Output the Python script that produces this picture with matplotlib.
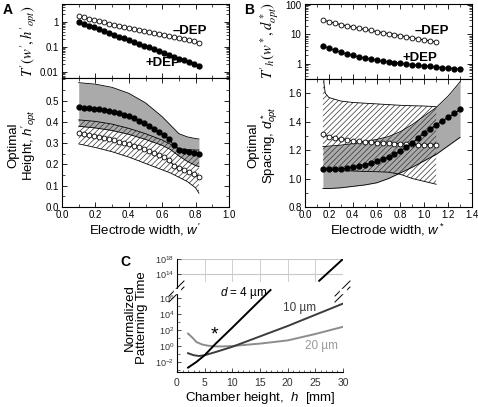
import numpy as np
import matplotlib
matplotlib.use("Agg")
import matplotlib.pyplot as plt
from matplotlib.ticker import MultipleLocator, NullFormatter, FixedLocator

plt.rcParams['font.family'] = ['Liberation Sans', 'DejaVu Sans']
plt.rcParams['mathtext.fontset'] = 'custom'
plt.rcParams['mathtext.rm'] = 'Liberation Sans'
plt.rcParams['mathtext.it'] = 'Liberation Sans:italic'
plt.rcParams['hatch.linewidth'] = 0.5
plt.rcParams['axes.linewidth'] = 0.8

# ---- panel A data (w' from 0.1 to 0.82) ----
w_a = np.round(np.arange(0.10, 0.8201, 0.03), 2)
T_plus_a = [1.0, 0.845, 0.714, 0.603, 0.51, 0.43, 0.364, 0.307, 0.26, 0.22, 0.185, 0.157,
            0.132, 0.112, 0.095, 0.08, 0.067, 0.057, 0.048, 0.041, 0.034, 0.029, 0.025, 0.021, 0.0174]
T_minus_a = [1.78, 1.55, 1.35, 1.2, 1.07, 0.95, 0.85, 0.76, 0.69, 0.63, 0.575, 0.525,
             0.48, 0.44, 0.40, 0.363, 0.33, 0.30, 0.275, 0.25, 0.23, 0.21, 0.19, 0.168, 0.145]
h_plus_a = [0.47, 0.468, 0.466, 0.463, 0.46, 0.456, 0.452, 0.447, 0.441, 0.434, 0.426, 0.417,
            0.406, 0.394, 0.38, 0.366, 0.352, 0.338, 0.32, 0.29, 0.27, 0.262, 0.258, 0.254, 0.25]
h_minus_a = [0.349, 0.345, 0.34, 0.335, 0.33, 0.325, 0.32, 0.314, 0.308, 0.302, 0.296, 0.289,
             0.281, 0.272, 0.263, 0.254, 0.244, 0.234, 0.223, 0.195, 0.185, 0.175, 0.165, 0.155, 0.142]
band_x_a = [0.1, 0.2, 0.3, 0.4, 0.5, 0.6, 0.65, 0.7, 0.75, 0.8, 0.82]
plus_hi_a = [0.585, 0.578, 0.563, 0.535, 0.49, 0.425, 0.385, 0.345, 0.33, 0.322, 0.32]
plus_lo_a = [0.38, 0.372, 0.36, 0.342, 0.318, 0.29, 0.27, 0.24, 0.215, 0.195, 0.19]
minus_hi_a = [0.41, 0.403, 0.39, 0.37, 0.345, 0.315, 0.295, 0.275, 0.27, 0.268, 0.268]
minus_lo_a = [0.297, 0.28, 0.26, 0.235, 0.205, 0.175, 0.16, 0.14, 0.12, 0.09, 0.065]

# ---- panel B data (w* from 0.15) ----
w_b_plus = np.round(np.arange(0.15, 1.3001, 0.05), 2)
w_b_minus = np.round(np.arange(0.15, 1.1001, 0.05), 2)
T_plus_b = [4.1, 3.4, 2.9, 2.5, 2.2, 1.95, 1.75, 1.58, 1.44, 1.33, 1.25, 1.18,
            1.11, 1.05, 1.0, 0.95, 0.9, 0.86, 0.82, 0.78, 0.75, 0.72, 0.7, 0.67]
T_minus_b = [31, 27, 24, 21.5, 19.5, 17.8, 16.2, 14.8, 13.6, 12.5, 11.5, 10.6,
             9.8, 9.0, 8.3, 7.6, 7.0, 6.5, 6.0, 5.6]
d_plus_b = [1.068, 1.066, 1.066, 1.068, 1.072, 1.078, 1.086, 1.096, 1.108, 1.12, 1.134, 1.15,
            1.17, 1.195, 1.22, 1.25, 1.285, 1.32, 1.35, 1.377, 1.405, 1.43, 1.458, 1.486]
d_minus_b = [1.31, 1.295, 1.285, 1.277, 1.27, 1.265, 1.261, 1.258, 1.255, 1.252, 1.25, 1.248,
             1.246, 1.244, 1.242, 1.24, 1.238, 1.237, 1.236, 1.235]
band_x_b = [0.15, 0.2, 0.3, 0.4, 0.5, 0.6, 0.7, 0.8, 0.9, 1.0, 1.1, 1.2, 1.3]
plus_hi_b = [1.225, 1.228, 1.235, 1.245, 1.26, 1.275, 1.295, 1.33, 1.38, 1.44, 1.50, 1.58, 1.68]
plus_lo_b = [0.93, 0.93, 0.935, 0.945, 0.955, 0.97, 1.0, 1.04, 1.08, 1.125, 1.17, 1.23, 1.29]
hatch_x_b = [0.15, 0.16, 0.17, 0.2, 0.3, 0.4, 0.5, 0.6, 0.7, 0.8, 0.9, 1.0, 1.1]
minus_hi_b = [1.8, 1.66, 1.6, 1.57, 1.545, 1.535, 1.53, 1.525, 1.52, 1.515, 1.512, 1.51, 1.505]
minus_lo_b = [1.07, 1.065, 1.06, 1.058, 1.055, 1.053, 1.05, 1.048, 1.045, 1.03, 1.0, 0.98, 0.96]

# ---- panel C data (log10 of normalized time) ----
h4_low = [2, 3.5, 5, 7, 10, 13, 16.9]
t4_low = [-2.7, -2.0, -1.15, 0.3, 2.3, 4.35, 7.0]
h4_high = [25.7, 30]
t4_high = [12.2, 18.0]
h10 = [2, 3, 4, 5, 7, 10, 15, 20, 25, 30]
t10 = [-0.9, -1.15, -1.25, -1.15, -0.75, -0.1, 1.2, 2.5, 3.9, 5.3]
h20 = [2, 3, 3.5, 4.5, 5.5, 7, 8.5, 10, 15, 20, 25, 30]
t20 = [1.55, 0.9, 0.5, 0.2, 0.05, -0.05, -0.05, 0.0, 0.3, 0.7, 1.5, 2.4]

W, H = 478, 407
fig = plt.figure(figsize=(W / 100, H / 100), dpi=100)


def px_axes(x0, y0, x1, y1):
    return fig.add_axes([x0 / W, 1 - y1 / H, (x1 - x0) / W, (y1 - y0) / H])


def style_box(ax):
    ax.tick_params(which='both', direction='in', top=True, right=True, labelsize=7)
    ax.tick_params(which='major', length=3.5, width=0.6, pad=2.5)
    ax.tick_params(which='minor', length=2, width=0.5)


LAB = 9.5
fmt1 = plt.FuncFormatter(lambda v, p: '%.1f' % v)

# ---------- A top ----------
axA1 = px_axes(62, 4, 229, 78)
axA1.plot(w_a, T_minus_a, '-o', color='k', mfc='white', mec='k', ms=3.5, lw=0.8, mew=0.6)
axA1.plot(w_a, T_plus_a, '-o', color='k', mfc='k', mec='k', ms=3.5, lw=0.8)
axA1.set_yscale('log')
axA1.set_ylim(10 ** -2.25, 10 ** 0.72)
axA1.set_xlim(0, 1)
axA1.xaxis.set_major_locator(MultipleLocator(0.2))
axA1.xaxis.set_minor_locator(MultipleLocator(0.1))
axA1.set_xticklabels([])
axA1.set_yticks([0.01, 0.1, 1])
axA1.set_yticklabels(['0.01', '0.1', '1'])
axA1.yaxis.set_minor_formatter(NullFormatter())
style_box(axA1)
axA1.text(0.66, 0.44, '\u2013DEP', fontsize=9.5, fontweight='bold', va='center')
axA1.text(0.5, 0.023, '+DEP', fontsize=9.5, fontweight='bold', va='center')

# ---------- A bottom ----------
axA2 = px_axes(62, 78, 229, 207)
axA2.fill_between(band_x_a, plus_lo_a, plus_hi_a, color='#aaaaaa', lw=0)
axA2.fill_between(band_x_a, minus_lo_a, minus_hi_a, facecolor='none', edgecolor='#333333', hatch='//////', lw=0)
for ys in (plus_hi_a, plus_lo_a, minus_hi_a, minus_lo_a):
    axA2.plot(band_x_a, ys, color='k', lw=0.6)
axA2.plot(w_a, h_plus_a, '-o', color='k', mfc='k', ms=3.5, lw=0.8)
axA2.plot(w_a, h_minus_a, '-o', color='k', mfc='white', mec='k', ms=3.5, lw=0.8, mew=0.6)
axA2.set_xlim(0, 1)
axA2.set_ylim(0, 0.607)
axA2.xaxis.set_major_locator(MultipleLocator(0.2))
axA2.xaxis.set_minor_locator(MultipleLocator(0.1))
axA2.yaxis.set_major_locator(FixedLocator([0.0, 0.1, 0.2, 0.3, 0.4, 0.5]))
axA2.yaxis.set_minor_locator(MultipleLocator(0.05))
axA2.xaxis.set_major_formatter(fmt1)
axA2.yaxis.set_major_formatter(fmt1)
style_box(axA2)

# ---------- B top ----------
axB1 = px_axes(305, 4, 472, 79)
axB1.plot(w_b_minus, T_minus_b, '-o', color='k', mfc='white', mec='k', ms=3.5, lw=0.8, mew=0.6)
axB1.plot(w_b_plus, T_plus_b, '-o', color='k', mfc='k', ms=3.5, lw=0.8)
axB1.set_yscale('log')
axB1.set_ylim(10 ** -0.51, 10 ** 2.03)
axB1.set_xlim(0, 1.4)
axB1.xaxis.set_major_locator(MultipleLocator(0.2))
axB1.xaxis.set_minor_locator(MultipleLocator(0.1))
axB1.set_xticklabels([])
axB1.set_yticks([1, 10, 100])
axB1.set_yticklabels(['1', '10', '100'])
axB1.yaxis.set_minor_formatter(NullFormatter())
style_box(axB1)
axB1.text(0.92, 13.5, '\u2013DEP', fontsize=9.5, fontweight='bold', va='center')
axB1.text(0.82, 1.6, '+DEP', fontsize=9.5, fontweight='bold', va='center')

# ---------- B bottom ----------
axB2 = px_axes(305, 79, 472, 207)
axB2.fill_between(band_x_b, plus_lo_b, plus_hi_b, color='#aaaaaa', lw=0)
axB2.fill_between(hatch_x_b, minus_lo_b, minus_hi_b, facecolor='none', edgecolor='#333333', hatch='//////', lw=0)
for ys in (plus_hi_b, plus_lo_b):
    axB2.plot(band_x_b, ys, color='k', lw=0.6)
for ys in (minus_hi_b, minus_lo_b):
    axB2.plot(hatch_x_b, ys, color='k', lw=0.6)
axB2.plot(w_b_minus, d_minus_b, '-o', color='k', mfc='white', mec='k', ms=3.5, lw=0.8, mew=0.6)
axB2.plot(w_b_plus, d_plus_b, '-o', color='k', mfc='k', ms=3.5, lw=0.8)
axB2.set_xlim(0, 1.4)
axB2.set_ylim(0.8, 1.7)
axB2.xaxis.set_major_locator(MultipleLocator(0.2))
axB2.xaxis.set_minor_locator(MultipleLocator(0.1))
axB2.yaxis.set_major_locator(MultipleLocator(0.2))
axB2.yaxis.set_minor_locator(MultipleLocator(0.1))
axB2.xaxis.set_major_formatter(fmt1)
axB2.yaxis.set_major_formatter(fmt1)
style_box(axB2)

# ---------- C ----------
axCu = px_axes(177, 259, 343, 282)
axCl = px_axes(177, 282, 343, 372)
gray_txt = '#333333'

axCu.plot(h4_high, np.power(10.0, t4_high), color='k', lw=1.4)
axCu.set_yscale('log')
axCu.set_ylim(10 ** 11.87, 10 ** 18)
axCu.set_xlim(0, 30)
for s in ('top', 'right', 'bottom'):
    axCu.spines[s].set_visible(False)
axCu.set_xticks([])
axCu.yaxis.set_major_locator(FixedLocator([1e14, 1e18]))
axCu.yaxis.set_minor_locator(FixedLocator([]))
axCu.set_yticklabels([r'$10^{14}$', r'$10^{18}$'])
axCu.tick_params(axis='y', direction='in', length=3, width=0.6, labelsize=6.5, colors=gray_txt, pad=2)
for gx in (5, 10, 15, 20, 25):
    axCu.axvline(gx, color='#c8c8c8', lw=0.6, zorder=0)
for gy in (1e14, 1e18):
    axCu.axhline(gy, color='#c8c8c8', lw=0.8, zorder=0)

axCl.plot(h20, np.power(10.0, t20), color='#8c8c8c', lw=1.4)
axCl.plot(h10, np.power(10.0, t10), color='#3c3c3c', lw=1.4)
axCl.plot(h4_low, np.power(10.0, t4_low), color='k', lw=1.4)
axCl.set_yscale('log')
axCl.set_ylim(10 ** -3.25, 10 ** 8)
axCl.set_xlim(0, 30)
for s in ('top', 'right'):
    axCl.spines[s].set_visible(False)
axCl.xaxis.set_major_locator(MultipleLocator(5))
axCl.xaxis.set_minor_locator(MultipleLocator(1))
axCl.yaxis.set_major_locator(FixedLocator([1e-2, 1, 1e2, 1e4, 1e6]))
axCl.yaxis.set_minor_locator(FixedLocator([1e-3, 1e-1, 1e1, 1e3, 1e5, 1e7]))
axCl.yaxis.set_minor_formatter(NullFormatter())
axCl.set_yticklabels([r'$10^{-2}$', r'$10^{0}$', r'$10^{2}$', r'$10^{4}$', r'$10^{6}$'])
axCl.tick_params(which='both', direction='in', labelsize=6.5, colors=gray_txt, pad=2)
axCl.tick_params(axis='x', labelsize=7.5, pad=4)
axCl.tick_params(which='major', length=3, width=0.6)
axCl.tick_params(which='minor', length=1.8, width=0.5)

axCl.text(7.8, 10 ** 6.6, r'$d$ = 4 µm', fontsize=8.5, va='center')
axCl.text(19.2, 10 ** 4.7, '10 µm', fontsize=8.5, va='center', color='#3c3c3c')
axCl.text(23.2, 10 ** 0.0, '20 µm', fontsize=8.5, va='center', color='#999999')
axCl.text(6.7, 10 ** 1.4, '*', fontsize=14, ha='center', va='center')

# axis break marks
for xb in (177, 343):
    for dy in (0, 6):
        fig.add_artist(plt.Line2D([(xb - 8) / W, (xb + 7) / W],
                                  [1 - (296 + dy) / H, 1 - (281 + dy) / H],
                                  color='k', lw=0.7))
    fig.add_artist(plt.Rectangle(((xb - 3) / W, 1 - 293 / H), 6 / W, 4 / H,
                                 transform=fig.transFigure, color='white', zorder=3))

# ---------- labels ----------
fig.text(29, H - 41, r"$T'(w', h'_{opt})$", rotation=90, ha='center', va='center',
         fontsize=10.5, math_fontfamily='stix', transform=None)
fig.text(23, H - 145, "Optimal\nHeight, $h'_{opt}$", rotation=90, ha='center', va='center',
         fontsize=LAB, linespacing=1.0, transform=None)
fig.text(270, H - 41, r"$T'_h(w^*, d^*_{opt})$", rotation=90, ha='center', va='center',
         fontsize=10.5, math_fontfamily='stix', transform=None)
fig.text(264, H - 145, "Optimal\nSpacing, $d^*_{opt}$", rotation=90, ha='center', va='center',
         fontsize=LAB, linespacing=1.0, transform=None)
fig.text(145, H - 230, "Electrode width, $w'$", ha='center', va='center', fontsize=LAB, transform=None)
fig.text(388, H - 230, "Electrode width, $w^*$", ha='center', va='center', fontsize=LAB, transform=None)
fig.text(260, H - 398, "Chamber height,  $h$  [mm]", ha='center', va='center', fontsize=LAB, transform=None)
fig.text(136, H - 318, "Normalized\nPatterning Time", rotation=90, ha='center', va='center',
         fontsize=LAB, linespacing=1.0, transform=None)

fig.text(3, H - 14, 'A', fontsize=10, fontweight='bold', transform=None)
fig.text(244, H - 14, 'B', fontsize=10, fontweight='bold', transform=None)
fig.text(120, H - 266, 'C', fontsize=10, fontweight='bold', transform=None)

fig.savefig('out.png', dpi=100)
